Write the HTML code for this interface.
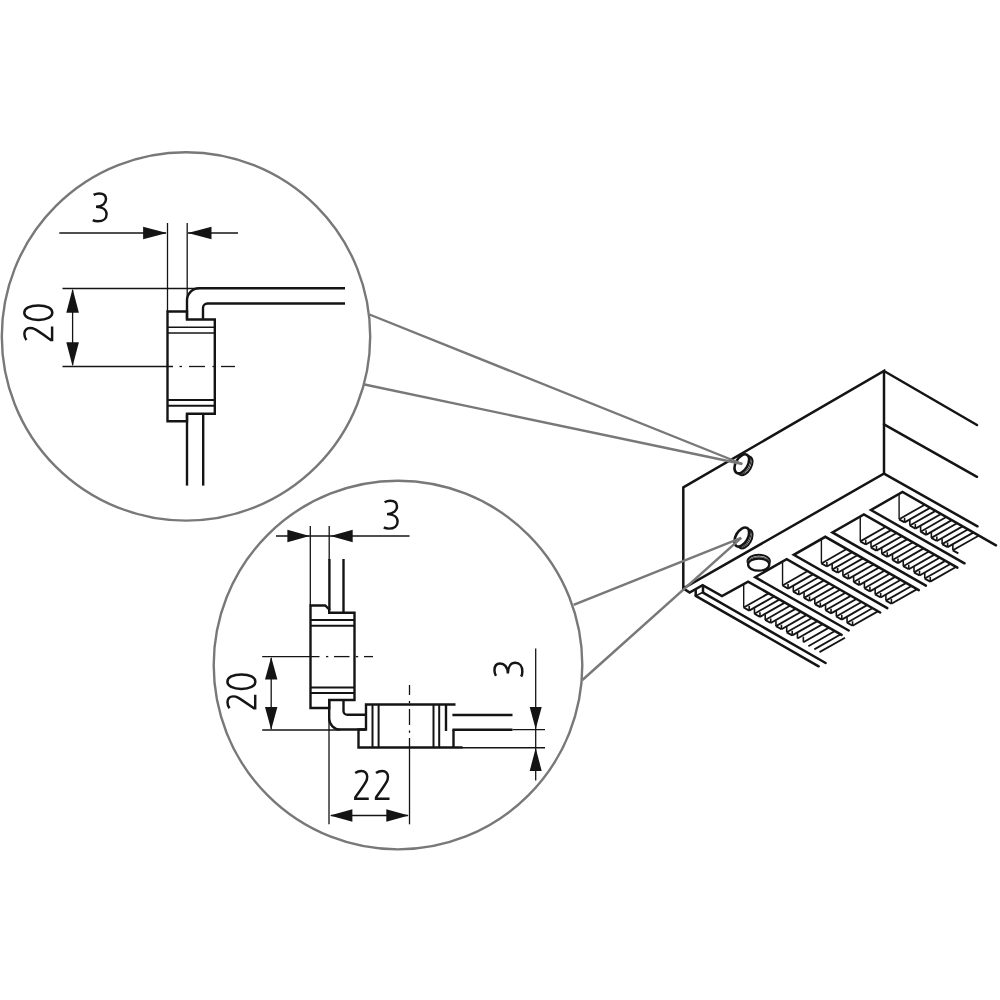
<!DOCTYPE html>
<html><head><meta charset="utf-8"><title>Diagram</title>
<style>
html,body{margin:0;padding:0;background:#fff;}
body{width:1000px;height:1000px;overflow:hidden;font-family:"Liberation Sans",sans-serif;}
svg{display:block;}
</style></head><body>
<svg width="1000" height="1000" viewBox="0 0 1000 1000">
<rect width="1000" height="1000" fill="#ffffff"/>
<circle cx="186" cy="336.4" r="184.2" stroke="#787878" stroke-width="2.4" fill="none"/>
<circle cx="398" cy="665.1" r="184.3" stroke="#787878" stroke-width="2.4" fill="none"/>
<line x1="59.30" y1="233.00" x2="166.00" y2="233.00" stroke="#141414" stroke-width="1.3" />
<line x1="188.00" y1="233.00" x2="238.00" y2="233.00" stroke="#141414" stroke-width="1.3" />
<line x1="167.50" y1="223.00" x2="167.50" y2="311.50" stroke="#141414" stroke-width="1.3" />
<line x1="187.20" y1="223.00" x2="187.20" y2="300.00" stroke="#141414" stroke-width="1.3" />
<polygon points="166.90,233.00 143.10,239.20 143.10,226.80" fill="#141414"/>
<polygon points="187.90,233.00 211.50,226.80 211.50,239.20" fill="#141414"/>
<path transform="translate(92.40,192.20)" d="M1.2,2.7 C3,1.7 4.8,1.2 6.8,1.2 C11,1.2 13.6,3.4 13.6,6.9 C13.6,10.8 10.3,14.5 3.6,14.6 C10.3,14.7 14.2,17.6 14.2,22 C14.2,26.4 10.8,29.1 5.6,29.1 C3.6,29.1 1.6,28.6 0.4,27.9" stroke="#141414" stroke-width="2.45" fill="none"/>
<line x1="62.50" y1="288.50" x2="199.00" y2="288.50" stroke="#141414" stroke-width="1.3" />
<line x1="62.50" y1="366.50" x2="173.00" y2="366.50" stroke="#141414" stroke-width="1.3" />
<line x1="179.50" y1="366.50" x2="182.00" y2="366.50" stroke="#141414" stroke-width="1.3" />
<line x1="189.00" y1="366.50" x2="205.00" y2="366.50" stroke="#141414" stroke-width="1.3" />
<line x1="212.50" y1="366.50" x2="215.00" y2="366.50" stroke="#141414" stroke-width="1.3" />
<line x1="221.00" y1="366.50" x2="235.00" y2="366.50" stroke="#141414" stroke-width="1.3" />
<line x1="72.60" y1="290.00" x2="72.60" y2="365.00" stroke="#141414" stroke-width="1.3" />
<polygon points="72.60,288.80 78.90,312.80 66.30,312.80" fill="#141414"/>
<polygon points="72.60,366.20 66.30,342.20 78.90,342.20" fill="#141414"/>
<path transform="translate(23.10,341.20) rotate(-90)" d="M1.25,3.3 C3,2 5.2,1.25 7.5,1.25 C11,1.25 13.2,3.6 13.2,7 C13.2,9 12.8,10.4 12,11.8 C10,15.5 6,21 1.3,27.6 L1.3,29 H14.75" stroke="#141414" stroke-width="2.45" fill="none" stroke-linejoin="miter"/>
<path transform="translate(23.10,321.20) rotate(-90)" d="M8.5,1.1999999999999993 C12.85,1.1999999999999993 15.75,6.799999999999999 15.75,15.2 C15.75,23.6 12.85,29.2 8.5,29.2 C4.15,29.2 1.25,23.6 1.25,15.2 C1.25,6.799999999999999 4.15,1.1999999999999993 8.5,1.1999999999999993 Z" stroke="#141414" stroke-width="2.45" fill="none"/>
<path d="M167.5,311.5 H187 V319.5 H214.8 V413.8 H187 V421.3 H167.5 Z" stroke="#141414" stroke-width="2.4" fill="none" stroke-linejoin="miter"/>
<line x1="167.50" y1="327.20" x2="214.80" y2="327.20" stroke="#141414" stroke-width="1.4" />
<line x1="167.50" y1="333.00" x2="214.80" y2="333.00" stroke="#141414" stroke-width="1.4" />
<line x1="167.50" y1="400.00" x2="214.80" y2="400.00" stroke="#141414" stroke-width="2.0" />
<line x1="167.50" y1="405.70" x2="214.80" y2="405.70" stroke="#141414" stroke-width="2.0" />
<path d="M187,319.5 V300.3 A12,12 0 0 1 199,288.3 H345" stroke="#141414" stroke-width="2.4" fill="none" />
<path d="M203,319.5 V308 A4.5,4.5 0 0 1 207.5,303.5 H345" stroke="#141414" stroke-width="2.4" fill="none" />
<line x1="187.00" y1="413.80" x2="187.00" y2="485.60" stroke="#141414" stroke-width="2.4" />
<line x1="203.20" y1="413.80" x2="203.20" y2="485.60" stroke="#141414" stroke-width="2.4" />
<line x1="276.00" y1="536.00" x2="409.50" y2="536.00" stroke="#141414" stroke-width="1.3" />
<line x1="310.30" y1="526.00" x2="310.30" y2="605.50" stroke="#141414" stroke-width="1.3" />
<line x1="329.20" y1="526.00" x2="329.20" y2="560.00" stroke="#141414" stroke-width="1.3" />
<polygon points="309.70,536.00 287.40,542.20 287.40,529.80" fill="#141414"/>
<polygon points="330.40,536.00 352.70,529.80 352.70,542.20" fill="#141414"/>
<path transform="translate(383.40,499.50)" d="M1.2,2.7 C3,1.7 4.8,1.2 6.8,1.2 C11,1.2 13.6,3.4 13.6,6.9 C13.6,10.8 10.3,14.5 3.6,14.6 C10.3,14.7 14.2,17.6 14.2,22 C14.2,26.4 10.8,29.1 5.6,29.1 C3.6,29.1 1.6,28.6 0.4,27.9" stroke="#141414" stroke-width="2.45" fill="none"/>
<line x1="262.20" y1="656.60" x2="319.50" y2="656.60" stroke="#141414" stroke-width="1.3" />
<line x1="326.00" y1="656.60" x2="328.30" y2="656.60" stroke="#141414" stroke-width="1.3" />
<line x1="334.00" y1="656.60" x2="349.50" y2="656.60" stroke="#141414" stroke-width="1.3" />
<line x1="355.80" y1="656.60" x2="358.20" y2="656.60" stroke="#141414" stroke-width="1.3" />
<line x1="364.00" y1="656.60" x2="373.00" y2="656.60" stroke="#141414" stroke-width="1.3" />
<line x1="262.20" y1="730.00" x2="340.00" y2="730.00" stroke="#141414" stroke-width="1.3" />
<line x1="271.20" y1="658.00" x2="271.20" y2="729.00" stroke="#141414" stroke-width="1.3" />
<polygon points="271.20,656.90 277.40,679.40 265.00,679.40" fill="#141414"/>
<polygon points="271.20,729.70 265.00,706.90 277.40,706.90" fill="#141414"/>
<path transform="translate(226.20,709.60) rotate(-90)" d="M1.25,3.3 C3,2 5.2,1.25 7.5,1.25 C11,1.25 13.2,3.6 13.2,7 C13.2,9 12.8,10.4 12,11.8 C10,15.5 6,21 1.3,27.6 L1.3,29 H14.75" stroke="#141414" stroke-width="2.45" fill="none" stroke-linejoin="miter"/>
<path transform="translate(226.20,690.20) rotate(-90)" d="M8.5,1.1999999999999993 C12.85,1.1999999999999993 15.75,6.799999999999999 15.75,15.2 C15.75,23.6 12.85,29.2 8.5,29.2 C4.15,29.2 1.25,23.6 1.25,15.2 C1.25,6.799999999999999 4.15,1.1999999999999993 8.5,1.1999999999999993 Z" stroke="#141414" stroke-width="2.45" fill="none"/>
<line x1="329.00" y1="718.00" x2="329.00" y2="824.30" stroke="#141414" stroke-width="1.3" />
<line x1="409.50" y1="738.00" x2="409.50" y2="824.30" stroke="#141414" stroke-width="1.3" />
<line x1="409.50" y1="685.00" x2="409.50" y2="695.00" stroke="#141414" stroke-width="1.3" />
<line x1="409.50" y1="701.00" x2="409.50" y2="703.30" stroke="#141414" stroke-width="1.3" />
<line x1="409.50" y1="709.00" x2="409.50" y2="725.00" stroke="#141414" stroke-width="1.3" />
<line x1="409.50" y1="730.50" x2="409.50" y2="732.80" stroke="#141414" stroke-width="1.3" />
<line x1="331.00" y1="815.50" x2="408.00" y2="815.50" stroke="#141414" stroke-width="1.3" />
<polygon points="329.90,815.50 352.40,809.30 352.40,821.70" fill="#141414"/>
<polygon points="408.80,815.50 386.30,821.70 386.30,809.30" fill="#141414"/>
<path transform="translate(354.00,769.75)" d="M1.25,3.3 C3,2 5.2,1.25 7.5,1.25 C11,1.25 13.2,3.6 13.2,7 C13.2,9 12.8,10.4 12,11.8 C10,15.5 6,21 1.3,27.6 L1.3,29 H14.75" stroke="#141414" stroke-width="2.45" fill="none" stroke-linejoin="miter"/>
<path transform="translate(374.75,769.75)" d="M1.25,3.3 C3,2 5.2,1.25 7.5,1.25 C11,1.25 13.2,3.6 13.2,7 C13.2,9 12.8,10.4 12,11.8 C10,15.5 6,21 1.3,27.6 L1.3,29 H14.75" stroke="#141414" stroke-width="2.45" fill="none" stroke-linejoin="miter"/>
<line x1="512.50" y1="729.60" x2="545.00" y2="729.60" stroke="#141414" stroke-width="1.3" />
<line x1="462.00" y1="747.75" x2="545.00" y2="747.75" stroke="#141414" stroke-width="1.3" />
<line x1="535.70" y1="648.50" x2="535.70" y2="780.50" stroke="#141414" stroke-width="1.3" />
<polygon points="535.70,729.30 529.70,707.10 541.70,707.10" fill="#141414"/>
<polygon points="535.70,748.10 541.70,770.90 529.70,770.90" fill="#141414"/>
<path transform="translate(493.25,677.00) rotate(-90)" d="M1.2,2.7 C3,1.7 4.8,1.2 6.8,1.2 C11,1.2 13.6,3.4 13.6,6.9 C13.6,10.8 10.3,14.5 3.6,14.6 C10.3,14.7 14.2,17.6 14.2,22 C14.2,26.4 10.8,29.1 5.6,29.1 C3.6,29.1 1.6,28.6 0.4,27.9" stroke="#141414" stroke-width="2.45" fill="none"/>
<path d="M310.5,605.5 H325.2 L329.2,609.5 V612.8 H354.5 V700 H329.2 V708 H310.5 Z" stroke="#141414" stroke-width="2.4" fill="none" stroke-linejoin="miter"/>
<line x1="310.50" y1="620.00" x2="354.50" y2="620.00" stroke="#141414" stroke-width="2.0" />
<line x1="310.50" y1="625.70" x2="354.50" y2="625.70" stroke="#141414" stroke-width="2.0" />
<line x1="310.50" y1="687.50" x2="354.50" y2="687.50" stroke="#141414" stroke-width="2.0" />
<line x1="310.50" y1="693.10" x2="354.50" y2="693.10" stroke="#141414" stroke-width="2.0" />
<line x1="329.40" y1="559.00" x2="329.40" y2="610.00" stroke="#141414" stroke-width="2.4" />
<line x1="343.50" y1="559.00" x2="343.50" y2="612.80" stroke="#141414" stroke-width="2.4" />
<path d="M329.2,700 V718.5 A11,11 0 0 0 340.2,729.5 H366" stroke="#141414" stroke-width="2.4" fill="none" />
<path d="M343.5,700 V710.9 A3.9,3.9 0 0 0 347.4,714.8 H366" stroke="#141414" stroke-width="2.4" fill="none" />
<path d="M455.5,704.5 H366 V729.5 H358.5 V747.5 H462.5" stroke="#141414" stroke-width="2.4" fill="none" stroke-linejoin="miter"/>
<line x1="372.50" y1="704.50" x2="372.50" y2="747.50" stroke="#141414" stroke-width="2.0" />
<line x1="378.60" y1="704.50" x2="378.60" y2="747.50" stroke="#141414" stroke-width="2.0" />
<line x1="433.50" y1="704.50" x2="433.50" y2="747.50" stroke="#141414" stroke-width="2.0" />
<line x1="439.20" y1="704.50" x2="439.20" y2="747.50" stroke="#141414" stroke-width="2.0" />
<line x1="446.00" y1="704.50" x2="446.00" y2="731.00" stroke="#141414" stroke-width="2.4" />
<line x1="453.50" y1="729.80" x2="453.50" y2="747.50" stroke="#141414" stroke-width="2.4" />
<line x1="452.40" y1="715.00" x2="512.50" y2="715.00" stroke="#141414" stroke-width="2.4" />
<line x1="452.40" y1="729.80" x2="512.50" y2="729.80" stroke="#141414" stroke-width="2.4" />
<path d="M683.3,487.4 L884,371 V473.6 L683.3,588.4 Z" stroke="#141414" stroke-width="2.5" fill="none" stroke-linejoin="miter"/>
<line x1="884.00" y1="371.00" x2="977.00" y2="425.00" stroke="#141414" stroke-width="2.5" stroke-linecap="round"/>
<line x1="884.00" y1="424.30" x2="977.00" y2="476.80" stroke="#141414" stroke-width="2.5" stroke-linecap="round"/>
<line x1="884.00" y1="473.60" x2="977.50" y2="526.30" stroke="#141414" stroke-width="2.5" stroke-linecap="round"/>
<ellipse transform="translate(745.20,465.75) rotate(30)" cx="0" cy="0" rx="6.0" ry="10.4" stroke="#141414" stroke-width="2.0" fill="#fff"/>
<ellipse transform="translate(743.60,464.85) rotate(30)" cx="0" cy="0" rx="6.0" ry="10.4" stroke="#141414" stroke-width="0.9" fill="#fff"/>
<ellipse transform="translate(741.80,463.80) rotate(30)" cx="0" cy="0" rx="6.0" ry="10.4" stroke="#141414" stroke-width="2.6" fill="#fff"/>
<ellipse transform="translate(745.20,538.95) rotate(30)" cx="0" cy="0" rx="6.0" ry="10.4" stroke="#141414" stroke-width="2.0" fill="#fff"/>
<ellipse transform="translate(743.60,538.05) rotate(30)" cx="0" cy="0" rx="6.0" ry="10.4" stroke="#141414" stroke-width="0.9" fill="#fff"/>
<ellipse transform="translate(741.80,537.00) rotate(30)" cx="0" cy="0" rx="6.0" ry="10.4" stroke="#141414" stroke-width="2.6" fill="#fff"/>
<ellipse cx="758.7" cy="561.3" rx="11.2" ry="6.5" stroke="#141414" stroke-width="2.0" fill="#fff"/>
<ellipse cx="758.7" cy="563.1" rx="11.0" ry="6.4" stroke="#141414" stroke-width="0.8" fill="#fff"/>
<ellipse cx="758.7" cy="564.6" rx="10.6" ry="6.1" stroke="#141414" stroke-width="2.3" fill="#fff"/>
<clipPath id="c0"><polygon points="902.50,492.00 1024.05,561.29 992.55,579.29 871.00,510.00"/></clipPath>
<g clip-path="url(#c0)">
<line x1="899.10" y1="492.00" x2="899.10" y2="519.30" stroke="#141414" stroke-width="1.4" />
<line x1="899.10" y1="519.30" x2="904.60" y2="522.40" stroke="#141414" stroke-width="1.9" />
<line x1="904.60" y1="517.80" x2="904.60" y2="522.40" stroke="#141414" stroke-width="1.6" />
<line x1="899.10" y1="519.30" x2="926.10" y2="503.91" stroke="#141414" stroke-width="1.8" />
<line x1="904.60" y1="522.40" x2="931.60" y2="507.01" stroke="#141414" stroke-width="1.9000000000000001" />
<line x1="909.85" y1="519.90" x2="909.85" y2="525.50" stroke="#141414" stroke-width="1.6" />
<line x1="909.85" y1="525.50" x2="915.35" y2="528.60" stroke="#141414" stroke-width="1.9" />
<line x1="915.35" y1="524.00" x2="915.35" y2="528.60" stroke="#141414" stroke-width="1.6" />
<line x1="909.85" y1="525.50" x2="936.85" y2="510.11" stroke="#141414" stroke-width="1.8" />
<line x1="915.35" y1="528.60" x2="942.35" y2="513.21" stroke="#141414" stroke-width="1.9000000000000001" />
<line x1="920.60" y1="526.10" x2="920.60" y2="531.70" stroke="#141414" stroke-width="1.6" />
<line x1="920.60" y1="531.70" x2="926.10" y2="534.80" stroke="#141414" stroke-width="1.9" />
<line x1="926.10" y1="530.20" x2="926.10" y2="534.80" stroke="#141414" stroke-width="1.6" />
<line x1="920.60" y1="531.70" x2="947.60" y2="516.31" stroke="#141414" stroke-width="1.8" />
<line x1="926.10" y1="534.80" x2="953.10" y2="519.41" stroke="#141414" stroke-width="1.9000000000000001" />
<line x1="931.35" y1="532.30" x2="931.35" y2="537.90" stroke="#141414" stroke-width="1.6" />
<line x1="931.35" y1="537.90" x2="936.85" y2="541.00" stroke="#141414" stroke-width="1.9" />
<line x1="936.85" y1="536.40" x2="936.85" y2="541.00" stroke="#141414" stroke-width="1.6" />
<line x1="931.35" y1="537.90" x2="958.35" y2="522.51" stroke="#141414" stroke-width="1.8" />
<line x1="936.85" y1="541.00" x2="963.85" y2="525.61" stroke="#141414" stroke-width="1.9000000000000001" />
<line x1="942.10" y1="538.50" x2="942.10" y2="544.10" stroke="#141414" stroke-width="1.6" />
<line x1="942.10" y1="544.10" x2="947.60" y2="547.20" stroke="#141414" stroke-width="1.9" />
<line x1="947.60" y1="542.60" x2="947.60" y2="547.20" stroke="#141414" stroke-width="1.6" />
<line x1="942.10" y1="544.10" x2="969.10" y2="528.71" stroke="#141414" stroke-width="1.8" />
<line x1="947.60" y1="547.20" x2="974.60" y2="531.81" stroke="#141414" stroke-width="1.9000000000000001" />
<line x1="952.85" y1="544.70" x2="952.85" y2="550.30" stroke="#141414" stroke-width="1.6" />
<line x1="952.85" y1="550.30" x2="958.35" y2="553.40" stroke="#141414" stroke-width="1.9" />
<line x1="952.85" y1="550.30" x2="979.85" y2="534.91" stroke="#141414" stroke-width="1.8" />
</g>
<path d="M996.00,545.30 L902.50,492.00 L871.00,510.00 L964.50,563.30" stroke="#141414" stroke-width="2.5" fill="none" stroke-linejoin="miter" stroke-linecap="round"/>
<clipPath id="c1"><polygon points="863.90,514.40 985.45,583.69 953.95,601.69 832.40,532.40"/></clipPath>
<g clip-path="url(#c1)">
<line x1="860.25" y1="514.40" x2="860.25" y2="541.36" stroke="#141414" stroke-width="1.4" />
<line x1="860.25" y1="541.36" x2="865.75" y2="544.46" stroke="#141414" stroke-width="1.9" />
<line x1="865.75" y1="539.86" x2="865.75" y2="544.46" stroke="#141414" stroke-width="1.6" />
<line x1="860.25" y1="541.36" x2="887.25" y2="525.97" stroke="#141414" stroke-width="1.8" />
<line x1="865.75" y1="544.46" x2="892.75" y2="529.07" stroke="#141414" stroke-width="1.9000000000000001" />
<line x1="871.00" y1="541.96" x2="871.00" y2="547.56" stroke="#141414" stroke-width="1.6" />
<line x1="871.00" y1="547.56" x2="876.50" y2="550.66" stroke="#141414" stroke-width="1.9" />
<line x1="876.50" y1="546.06" x2="876.50" y2="550.66" stroke="#141414" stroke-width="1.6" />
<line x1="871.00" y1="547.56" x2="898.00" y2="532.17" stroke="#141414" stroke-width="1.8" />
<line x1="876.50" y1="550.66" x2="903.50" y2="535.27" stroke="#141414" stroke-width="1.9000000000000001" />
<line x1="881.75" y1="548.16" x2="881.75" y2="553.76" stroke="#141414" stroke-width="1.6" />
<line x1="881.75" y1="553.76" x2="887.25" y2="556.86" stroke="#141414" stroke-width="1.9" />
<line x1="887.25" y1="552.26" x2="887.25" y2="556.86" stroke="#141414" stroke-width="1.6" />
<line x1="881.75" y1="553.76" x2="908.75" y2="538.37" stroke="#141414" stroke-width="1.8" />
<line x1="887.25" y1="556.86" x2="914.25" y2="541.47" stroke="#141414" stroke-width="1.9000000000000001" />
<line x1="892.50" y1="554.36" x2="892.50" y2="559.96" stroke="#141414" stroke-width="1.6" />
<line x1="892.50" y1="559.96" x2="898.00" y2="563.06" stroke="#141414" stroke-width="1.9" />
<line x1="898.00" y1="558.46" x2="898.00" y2="563.06" stroke="#141414" stroke-width="1.6" />
<line x1="892.50" y1="559.96" x2="919.50" y2="544.57" stroke="#141414" stroke-width="1.8" />
<line x1="898.00" y1="563.06" x2="925.00" y2="547.67" stroke="#141414" stroke-width="1.9000000000000001" />
<line x1="903.25" y1="560.56" x2="903.25" y2="566.16" stroke="#141414" stroke-width="1.6" />
<line x1="903.25" y1="566.16" x2="908.75" y2="569.26" stroke="#141414" stroke-width="1.9" />
<line x1="908.75" y1="564.66" x2="908.75" y2="569.26" stroke="#141414" stroke-width="1.6" />
<line x1="903.25" y1="566.16" x2="930.25" y2="550.77" stroke="#141414" stroke-width="1.8" />
<line x1="908.75" y1="569.26" x2="935.75" y2="553.87" stroke="#141414" stroke-width="1.9000000000000001" />
<line x1="914.00" y1="566.76" x2="914.00" y2="572.36" stroke="#141414" stroke-width="1.6" />
<line x1="914.00" y1="572.36" x2="919.50" y2="575.46" stroke="#141414" stroke-width="1.9" />
<line x1="919.50" y1="570.86" x2="919.50" y2="575.46" stroke="#141414" stroke-width="1.6" />
<line x1="914.00" y1="572.36" x2="941.00" y2="556.97" stroke="#141414" stroke-width="1.8" />
<line x1="919.50" y1="575.46" x2="946.50" y2="560.07" stroke="#141414" stroke-width="1.9000000000000001" />
<line x1="924.75" y1="572.96" x2="924.75" y2="578.56" stroke="#141414" stroke-width="1.6" />
<line x1="924.75" y1="578.56" x2="930.25" y2="581.66" stroke="#141414" stroke-width="1.9" />
<line x1="930.25" y1="577.06" x2="930.25" y2="581.66" stroke="#141414" stroke-width="1.6" />
<line x1="924.75" y1="578.56" x2="951.75" y2="563.17" stroke="#141414" stroke-width="1.8" />
<line x1="930.25" y1="581.66" x2="957.25" y2="566.27" stroke="#141414" stroke-width="1.9000000000000001" />
</g>
<path d="M957.40,567.70 L863.90,514.40 L832.40,532.40 L925.90,585.70" stroke="#141414" stroke-width="2.5" fill="none" stroke-linejoin="miter" stroke-linecap="round"/>
<clipPath id="c2"><polygon points="825.30,536.80 946.85,606.09 915.35,624.09 793.80,554.80"/></clipPath>
<g clip-path="url(#c2)">
<line x1="821.40" y1="536.80" x2="821.40" y2="563.42" stroke="#141414" stroke-width="1.4" />
<line x1="821.40" y1="563.42" x2="826.90" y2="566.52" stroke="#141414" stroke-width="1.9" />
<line x1="826.90" y1="561.92" x2="826.90" y2="566.52" stroke="#141414" stroke-width="1.6" />
<line x1="821.40" y1="563.42" x2="848.40" y2="548.03" stroke="#141414" stroke-width="1.8" />
<line x1="826.90" y1="566.52" x2="853.90" y2="551.13" stroke="#141414" stroke-width="1.9000000000000001" />
<line x1="832.15" y1="564.02" x2="832.15" y2="569.62" stroke="#141414" stroke-width="1.6" />
<line x1="832.15" y1="569.62" x2="837.65" y2="572.72" stroke="#141414" stroke-width="1.9" />
<line x1="837.65" y1="568.12" x2="837.65" y2="572.72" stroke="#141414" stroke-width="1.6" />
<line x1="832.15" y1="569.62" x2="859.15" y2="554.23" stroke="#141414" stroke-width="1.8" />
<line x1="837.65" y1="572.72" x2="864.65" y2="557.33" stroke="#141414" stroke-width="1.9000000000000001" />
<line x1="842.90" y1="570.22" x2="842.90" y2="575.82" stroke="#141414" stroke-width="1.6" />
<line x1="842.90" y1="575.82" x2="848.40" y2="578.92" stroke="#141414" stroke-width="1.9" />
<line x1="848.40" y1="574.32" x2="848.40" y2="578.92" stroke="#141414" stroke-width="1.6" />
<line x1="842.90" y1="575.82" x2="869.90" y2="560.43" stroke="#141414" stroke-width="1.8" />
<line x1="848.40" y1="578.92" x2="875.40" y2="563.53" stroke="#141414" stroke-width="1.9000000000000001" />
<line x1="853.65" y1="576.42" x2="853.65" y2="582.02" stroke="#141414" stroke-width="1.6" />
<line x1="853.65" y1="582.02" x2="859.15" y2="585.12" stroke="#141414" stroke-width="1.9" />
<line x1="859.15" y1="580.52" x2="859.15" y2="585.12" stroke="#141414" stroke-width="1.6" />
<line x1="853.65" y1="582.02" x2="880.65" y2="566.63" stroke="#141414" stroke-width="1.8" />
<line x1="859.15" y1="585.12" x2="886.15" y2="569.73" stroke="#141414" stroke-width="1.9000000000000001" />
<line x1="864.40" y1="582.62" x2="864.40" y2="588.22" stroke="#141414" stroke-width="1.6" />
<line x1="864.40" y1="588.22" x2="869.90" y2="591.32" stroke="#141414" stroke-width="1.9" />
<line x1="869.90" y1="586.72" x2="869.90" y2="591.32" stroke="#141414" stroke-width="1.6" />
<line x1="864.40" y1="588.22" x2="891.40" y2="572.83" stroke="#141414" stroke-width="1.8" />
<line x1="869.90" y1="591.32" x2="896.90" y2="575.93" stroke="#141414" stroke-width="1.9000000000000001" />
<line x1="875.15" y1="588.82" x2="875.15" y2="594.42" stroke="#141414" stroke-width="1.6" />
<line x1="875.15" y1="594.42" x2="880.65" y2="597.52" stroke="#141414" stroke-width="1.9" />
<line x1="880.65" y1="592.92" x2="880.65" y2="597.52" stroke="#141414" stroke-width="1.6" />
<line x1="875.15" y1="594.42" x2="902.15" y2="579.03" stroke="#141414" stroke-width="1.8" />
<line x1="880.65" y1="597.52" x2="907.65" y2="582.13" stroke="#141414" stroke-width="1.9000000000000001" />
<line x1="885.90" y1="595.02" x2="885.90" y2="600.62" stroke="#141414" stroke-width="1.6" />
<line x1="885.90" y1="600.62" x2="891.40" y2="603.72" stroke="#141414" stroke-width="1.9" />
<line x1="891.40" y1="599.12" x2="891.40" y2="603.72" stroke="#141414" stroke-width="1.6" />
<line x1="885.90" y1="600.62" x2="912.90" y2="585.23" stroke="#141414" stroke-width="1.8" />
<line x1="891.40" y1="603.72" x2="918.40" y2="588.33" stroke="#141414" stroke-width="1.9000000000000001" />
</g>
<path d="M918.80,590.10 L825.30,536.80 L793.80,554.80 L887.30,608.10" stroke="#141414" stroke-width="2.5" fill="none" stroke-linejoin="miter" stroke-linecap="round"/>
<clipPath id="c3"><polygon points="786.70,559.20 908.25,628.49 876.75,646.49 755.20,577.20"/></clipPath>
<g clip-path="url(#c3)">
<line x1="782.55" y1="559.20" x2="782.55" y2="585.48" stroke="#141414" stroke-width="1.4" />
<line x1="782.55" y1="585.48" x2="788.05" y2="588.58" stroke="#141414" stroke-width="1.9" />
<line x1="788.05" y1="583.98" x2="788.05" y2="588.58" stroke="#141414" stroke-width="1.6" />
<line x1="782.55" y1="585.48" x2="809.55" y2="570.09" stroke="#141414" stroke-width="1.8" />
<line x1="788.05" y1="588.58" x2="815.05" y2="573.19" stroke="#141414" stroke-width="1.9000000000000001" />
<line x1="793.30" y1="586.08" x2="793.30" y2="591.68" stroke="#141414" stroke-width="1.6" />
<line x1="793.30" y1="591.68" x2="798.80" y2="594.78" stroke="#141414" stroke-width="1.9" />
<line x1="798.80" y1="590.18" x2="798.80" y2="594.78" stroke="#141414" stroke-width="1.6" />
<line x1="793.30" y1="591.68" x2="820.30" y2="576.29" stroke="#141414" stroke-width="1.8" />
<line x1="798.80" y1="594.78" x2="825.80" y2="579.39" stroke="#141414" stroke-width="1.9000000000000001" />
<line x1="804.05" y1="592.28" x2="804.05" y2="597.88" stroke="#141414" stroke-width="1.6" />
<line x1="804.05" y1="597.88" x2="809.55" y2="600.98" stroke="#141414" stroke-width="1.9" />
<line x1="809.55" y1="596.38" x2="809.55" y2="600.98" stroke="#141414" stroke-width="1.6" />
<line x1="804.05" y1="597.88" x2="831.05" y2="582.49" stroke="#141414" stroke-width="1.8" />
<line x1="809.55" y1="600.98" x2="836.55" y2="585.59" stroke="#141414" stroke-width="1.9000000000000001" />
<line x1="814.80" y1="598.48" x2="814.80" y2="604.08" stroke="#141414" stroke-width="1.6" />
<line x1="814.80" y1="604.08" x2="820.30" y2="607.18" stroke="#141414" stroke-width="1.9" />
<line x1="820.30" y1="602.58" x2="820.30" y2="607.18" stroke="#141414" stroke-width="1.6" />
<line x1="814.80" y1="604.08" x2="841.80" y2="588.69" stroke="#141414" stroke-width="1.8" />
<line x1="820.30" y1="607.18" x2="847.30" y2="591.79" stroke="#141414" stroke-width="1.9000000000000001" />
<line x1="825.55" y1="604.68" x2="825.55" y2="610.28" stroke="#141414" stroke-width="1.6" />
<line x1="825.55" y1="610.28" x2="831.05" y2="613.38" stroke="#141414" stroke-width="1.9" />
<line x1="831.05" y1="608.78" x2="831.05" y2="613.38" stroke="#141414" stroke-width="1.6" />
<line x1="825.55" y1="610.28" x2="852.55" y2="594.89" stroke="#141414" stroke-width="1.8" />
<line x1="831.05" y1="613.38" x2="858.05" y2="597.99" stroke="#141414" stroke-width="1.9000000000000001" />
<line x1="836.30" y1="610.88" x2="836.30" y2="616.48" stroke="#141414" stroke-width="1.6" />
<line x1="836.30" y1="616.48" x2="841.80" y2="619.58" stroke="#141414" stroke-width="1.9" />
<line x1="841.80" y1="614.98" x2="841.80" y2="619.58" stroke="#141414" stroke-width="1.6" />
<line x1="836.30" y1="616.48" x2="863.30" y2="601.09" stroke="#141414" stroke-width="1.8" />
<line x1="841.80" y1="619.58" x2="868.80" y2="604.19" stroke="#141414" stroke-width="1.9000000000000001" />
<line x1="847.05" y1="617.08" x2="847.05" y2="622.68" stroke="#141414" stroke-width="1.6" />
<line x1="847.05" y1="622.68" x2="852.55" y2="625.78" stroke="#141414" stroke-width="1.9" />
<line x1="852.55" y1="621.18" x2="852.55" y2="625.78" stroke="#141414" stroke-width="1.6" />
<line x1="847.05" y1="622.68" x2="874.05" y2="607.29" stroke="#141414" stroke-width="1.8" />
<line x1="852.55" y1="625.78" x2="879.55" y2="610.39" stroke="#141414" stroke-width="1.9000000000000001" />
</g>
<path d="M880.20,612.50 L786.70,559.20 L755.20,577.20 L848.70,630.50" stroke="#141414" stroke-width="2.5" fill="none" stroke-linejoin="miter" stroke-linecap="round"/>
<clipPath id="c4"><polygon points="748.10,581.60 869.65,650.89 838.15,668.89 716.60,599.60"/></clipPath>
<g clip-path="url(#c4)">
<line x1="743.70" y1="581.60" x2="743.70" y2="607.54" stroke="#141414" stroke-width="1.4" />
<line x1="743.70" y1="607.54" x2="749.20" y2="610.64" stroke="#141414" stroke-width="1.9" />
<line x1="749.20" y1="606.04" x2="749.20" y2="610.64" stroke="#141414" stroke-width="1.6" />
<line x1="743.70" y1="607.54" x2="770.70" y2="592.15" stroke="#141414" stroke-width="1.8" />
<line x1="749.20" y1="610.64" x2="776.20" y2="595.25" stroke="#141414" stroke-width="1.9000000000000001" />
<line x1="754.45" y1="608.14" x2="754.45" y2="613.74" stroke="#141414" stroke-width="1.6" />
<line x1="754.45" y1="613.74" x2="759.95" y2="616.84" stroke="#141414" stroke-width="1.9" />
<line x1="759.95" y1="612.24" x2="759.95" y2="616.84" stroke="#141414" stroke-width="1.6" />
<line x1="754.45" y1="613.74" x2="781.45" y2="598.35" stroke="#141414" stroke-width="1.8" />
<line x1="759.95" y1="616.84" x2="786.95" y2="601.45" stroke="#141414" stroke-width="1.9000000000000001" />
<line x1="765.20" y1="614.34" x2="765.20" y2="619.94" stroke="#141414" stroke-width="1.6" />
<line x1="765.20" y1="619.94" x2="770.70" y2="623.04" stroke="#141414" stroke-width="1.9" />
<line x1="770.70" y1="618.44" x2="770.70" y2="623.04" stroke="#141414" stroke-width="1.6" />
<line x1="765.20" y1="619.94" x2="792.20" y2="604.55" stroke="#141414" stroke-width="1.8" />
<line x1="770.70" y1="623.04" x2="797.70" y2="607.65" stroke="#141414" stroke-width="1.9000000000000001" />
<line x1="775.95" y1="620.54" x2="775.95" y2="626.14" stroke="#141414" stroke-width="1.6" />
<line x1="775.95" y1="626.14" x2="781.45" y2="629.24" stroke="#141414" stroke-width="1.9" />
<line x1="781.45" y1="624.64" x2="781.45" y2="629.24" stroke="#141414" stroke-width="1.6" />
<line x1="775.95" y1="626.14" x2="802.95" y2="610.75" stroke="#141414" stroke-width="1.8" />
<line x1="781.45" y1="629.24" x2="808.45" y2="613.85" stroke="#141414" stroke-width="1.9000000000000001" />
<line x1="786.70" y1="626.74" x2="786.70" y2="632.34" stroke="#141414" stroke-width="1.6" />
<line x1="786.70" y1="632.34" x2="792.20" y2="635.44" stroke="#141414" stroke-width="1.9" />
<line x1="792.20" y1="630.84" x2="792.20" y2="635.44" stroke="#141414" stroke-width="1.6" />
<line x1="786.70" y1="632.34" x2="813.70" y2="616.95" stroke="#141414" stroke-width="1.8" />
<line x1="792.20" y1="635.44" x2="819.20" y2="620.05" stroke="#141414" stroke-width="1.9000000000000001" />
<line x1="797.45" y1="632.94" x2="797.45" y2="638.54" stroke="#141414" stroke-width="1.6" />
<line x1="797.45" y1="638.54" x2="824.45" y2="623.15" stroke="#141414" stroke-width="1.8" />
<line x1="803.36" y1="636.66" x2="803.36" y2="642.26" stroke="#141414" stroke-width="1.6" />
<line x1="803.36" y1="642.26" x2="830.36" y2="626.87" stroke="#141414" stroke-width="1.8" />
<line x1="808.35" y1="646.20" x2="835.35" y2="630.81" stroke="#141414" stroke-width="1.8" />
<line x1="814.30" y1="649.35" x2="841.30" y2="633.96" stroke="#141414" stroke-width="1.8" />
</g>
<line x1="819.50" y1="652.10" x2="845.00" y2="637.80" stroke="#141414" stroke-width="1.8" />
<path d="M683.3,588.4 L689.6,592.6 L702.6,585.1 L722,596 L748.10,581.60 L841.60,634.90" stroke="#141414" stroke-width="2.5" fill="none" stroke-linejoin="miter" stroke-linecap="round"/>
<line x1="695.70" y1="589.30" x2="695.70" y2="595.90" stroke="#141414" stroke-width="2.5" />
<line x1="703.00" y1="585.30" x2="703.00" y2="592.60" stroke="#141414" stroke-width="2.5" />
<line x1="695.70" y1="595.90" x2="703.00" y2="592.20" stroke="#141414" stroke-width="1.6" />
<line x1="695.70" y1="595.90" x2="818.60" y2="666.30" stroke="#141414" stroke-width="2.5" stroke-linecap="round"/>
<line x1="703.00" y1="592.60" x2="825.60" y2="663.00" stroke="#141414" stroke-width="2.5" stroke-linecap="round"/>
<line x1="369.50" y1="314.50" x2="742.30" y2="464.00" stroke="#787878" stroke-width="2.4" />
<line x1="364.50" y1="384.50" x2="742.30" y2="464.00" stroke="#787878" stroke-width="2.4" />
<line x1="573.60" y1="604.80" x2="741.20" y2="537.80" stroke="#787878" stroke-width="2.4" />
<line x1="582.40" y1="680.00" x2="741.20" y2="537.80" stroke="#787878" stroke-width="2.4" />
</svg>
</body></html>
